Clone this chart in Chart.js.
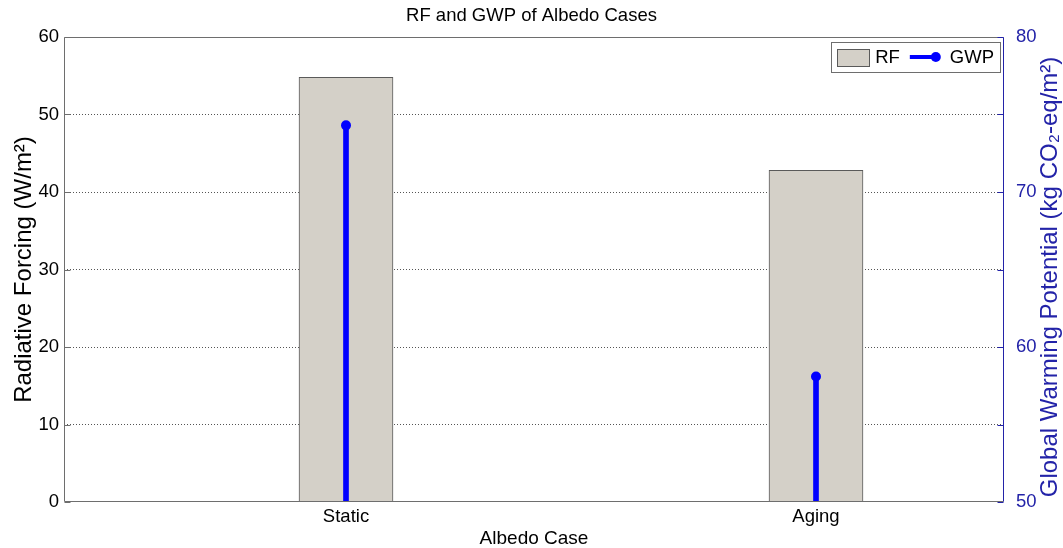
<!DOCTYPE html>
<html><head><meta charset="utf-8">
<script src="https://cdn.jsdelivr.net/npm/chart.js@4/dist/chart.umd.min.js"></script>
<style>html,body{margin:0;padding:0;background:#fff;overflow:hidden}#wrap{width:1063px;height:548px}</style>
</head><body><div id="wrap"><canvas id="c" width="1063" height="548"></canvas></div>
<script>
// ---- data ----
const categories = ['Static', 'Aging'];
const categoryPositions = [1, 2];
const rfValues = [54.8, 42.8];
const gwpValues = [74.3, 58.1];
const gwpBase = 50;
const leftTickStep = 10;
const rightTickStep = 10;
const rightMinorStep = 5;

const FONT = '"Liberation Sans", Arial, sans-serif';
const BLUE = '#0000ff';
const AXBLUE = '#2323a8';
Chart.defaults.font.family = FONT;
Chart.defaults.font.size = 18.5;
Chart.defaults.color = '#000';

const frameAndLegend = {
  id: 'frameAndLegend',
  afterDatasetsDraw(chart) {
    const {ctx, chartArea: a, scales} = chart;
    const L = Math.round(a.left) + 0.5, R = Math.round(a.right) - 0.5;
    const T = Math.round(a.top) + 0.5, B = Math.round(a.bottom) - 0.5;
    ctx.save();
    ctx.lineWidth = 1;
    ctx.strokeStyle = '#6e6e6e';
    ctx.beginPath();
    ctx.moveTo(R, T); ctx.lineTo(L, T); ctx.lineTo(L, B); ctx.lineTo(R, B);
    ctx.stroke();
    const y = scales.y;
    ctx.beginPath();
    for (let v = y.min; v <= y.max + 1e-9; v += leftTickStep) {
      const p = Math.round(y.getPixelForValue(v)) + 0.5;
      ctx.moveTo(L, p); ctx.lineTo(L + 6, p);
    }
    ctx.stroke();
    const y2 = scales.y2;
    ctx.strokeStyle = AXBLUE;
    ctx.beginPath();
    ctx.moveTo(R, T); ctx.lineTo(R, B);
    for (let v = y2.min; v <= y2.max + 1e-9; v += rightMinorStep) {
      const p = Math.round(y2.getPixelForValue(v)) + 0.5;
      ctx.moveTo(R, p); ctx.lineTo(R - 6, p);
    }
    ctx.stroke();
    ctx.restore();
  },
  afterDraw(chart) {
    const {ctx, chartArea: a} = chart;
    const ds = chart.data.datasets;
    ctx.save();
    ctx.fillStyle = AXBLUE;
    ctx.font = '24px ' + FONT;
    ctx.textAlign = 'center';
    ctx.textBaseline = 'middle';
    ctx.translate(1050, 277);
    ctx.rotate(-Math.PI / 2);
    ctx.fillText('Global Warming Potential (kg CO\u2082-eq/m\u00b2)', 0, 0);
    ctx.restore();

    ctx.save();
    ctx.font = '18.5px ' + FONT;
    const rfLabel = ds[0].label, gwpLabel = ds[2].label;
    const w1 = ctx.measureText(rfLabel).width, w2 = ctx.measureText(gwpLabel).width;
    const padL = 6, sw = 32, gap = 6, gap2 = 10, lineW = 30, gap3 = 10, padR = 6;
    const W = padL + sw + gap + w1 + gap2 + lineW + gap3 + w2 + padR;
    const H = 30;
    const right = Math.round(a.right) - 4, top = Math.round(a.top) + 5;
    const left = right - W;
    ctx.fillStyle = '#fff';
    ctx.fillRect(left, top, W, H);
    ctx.strokeStyle = '#6e6e6e';
    ctx.lineWidth = 1;
    ctx.strokeRect(Math.round(left) + 0.5, top + 0.5, Math.round(W), H);
    const cy = top + H / 2;
    let x = left + padL;
    ctx.fillStyle = ds[0].backgroundColor;
    ctx.fillRect(x, top + 7, sw, 18);
    ctx.strokeStyle = ds[0].borderColor;
    ctx.strokeRect(Math.round(x) + 0.5, top + 7.5, sw, 17);
    x += sw + gap;
    ctx.fillStyle = '#000';
    ctx.textBaseline = 'middle';
    ctx.textAlign = 'left';
    ctx.fillText(rfLabel, x, cy + 1);
    x += w1 + gap2;
    ctx.strokeStyle = BLUE;
    ctx.lineWidth = 4;
    ctx.beginPath(); ctx.moveTo(x, cy); ctx.lineTo(x + lineW, cy); ctx.stroke();
    ctx.fillStyle = BLUE;
    ctx.beginPath(); ctx.arc(x + lineW - 4, cy, 5, 0, Math.PI * 2); ctx.fill();
    x += lineW + gap3;
    ctx.fillStyle = '#000';
    ctx.fillText(gwpLabel, x, cy + 1);
    ctx.restore();
  }
};

const rfData = categoryPositions.map((p, i) => ({x: p, y: rfValues[i]}));
const stemData = categoryPositions.map((p, i) => ({x: p, y: [gwpBase, gwpValues[i]]}));
const dotData = categoryPositions.map((p, i) => ({x: p, y: gwpValues[i]}));

new Chart(document.getElementById('c'), {
  type: 'bar',
  data: {
    datasets: [
      {label: 'RF', data: rfData, yAxisID: 'y', backgroundColor: '#d4d0c8', borderColor: '#5a5a5a',
       borderWidth: 1, barThickness: 94, grouped: false, order: 3},
      {label: 'GWP stem', data: stemData, yAxisID: 'y2', backgroundColor: BLUE, borderWidth: 0,
       barThickness: 5, grouped: false, order: 2},
      {type: 'line', label: 'GWP', data: dotData, yAxisID: 'y2', showLine: false,
       pointRadius: 5, pointBackgroundColor: BLUE, pointBorderColor: BLUE, pointBorderWidth: 0, order: 1}
    ]
  },
  options: {
    responsive: false,
    devicePixelRatio: 1,
    animation: false,
    layout: {padding: 0},
    plugins: {
      legend: {display: false},
      tooltip: {enabled: false},
      title: {display: true, text: 'RF and GWP of Albedo Cases', color: '#000',
              font: {size: 18.5, weight: 'normal'}, padding: {top: 5, bottom: 9.8}}
    },
    scales: {
      x: {
        type: 'linear', position: 'bottom', min: 0.4, max: 2.4, offset: false,
        afterBuildTicks: s => { s.ticks = categoryPositions.map(v => ({value: v})); },
        afterFit: s => { s.height = 46; },
        ticks: {callback: v => { const i = categoryPositions.indexOf(v); return i >= 0 ? categories[i] : ''; },
                autoSkip: false, maxRotation: 0, padding: 4, color: '#000'},
        grid: {display: false, drawTicks: false},
        border: {display: false},
        title: {display: true, text: 'Albedo Case', color: '#000', font: {size: 19}, padding: {top: 0, bottom: -2}}
      },
      y: {
        position: 'left', min: 0, max: 60,
        afterFit: s => { s.width = 64; },
        ticks: {stepSize: leftTickStep, padding: 5, color: '#000'},
        grid: {drawTicks: false, lineWidth: 1,
               color: c => (c.tick && (c.tick.value === 0 || c.tick.value === 60)) ? 'rgba(0,0,0,0)' : '#555'},
        border: {display: false, dash: [1, 2]},
        title: {display: true, text: 'Radiative Forcing (W/m\u00b2)', color: '#000', font: {size: 24},
                padding: {top: 10, bottom: 0}}
      },
      y2: {
        position: 'right', min: 50, max: 80,
        afterFit: s => { s.width = 59; },
        ticks: {stepSize: rightTickStep, padding: 4, color: AXBLUE},
        grid: {display: false, drawOnChartArea: false},
        border: {display: false}
      }
    }
  },
  plugins: [frameAndLegend]
});
</script></body></html>
